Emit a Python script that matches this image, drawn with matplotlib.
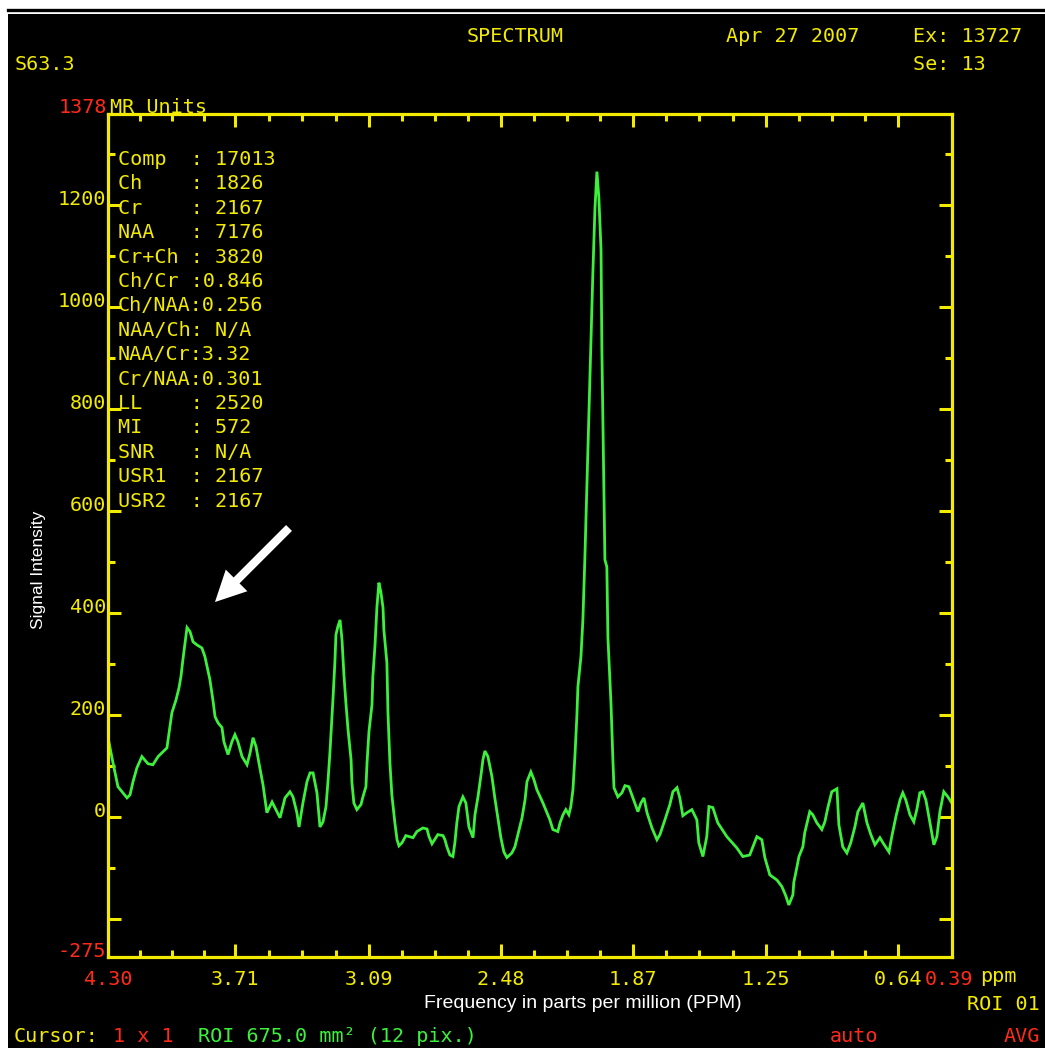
import numpy as np
import matplotlib
matplotlib.use("Agg")
import matplotlib.pyplot as plt
from matplotlib.patches import Rectangle, FancyArrowPatch
from matplotlib.lines import Line2D

W, H = 1045, 1048
YEL = "#f2ea00"; RED = "#ff2a1a"; GRN = "#3cf03c"
MONO = "DejaVu Sans Mono"; SANS = "Liberation Sans"

# spectrum (ppm, MR units)
ppm = [4.295, 4.277, 4.254, 4.212, 4.198, 4.184, 4.166, 4.143, 4.115, 4.092, 4.068, 4.027,
       4.017, 4.004, 3.985, 3.971, 3.962, 3.953, 3.943, 3.934, 3.920, 3.906, 3.888, 3.865,
       3.851, 3.841, 3.828, 3.814, 3.804, 3.790, 3.772, 3.763, 3.744, 3.726, 3.712, 3.698,
       3.679, 3.656, 3.642, 3.628, 3.614, 3.601, 3.582, 3.564, 3.540, 3.517, 3.503, 3.480,
       3.457, 3.443, 3.425, 3.415, 3.397, 3.378, 3.364, 3.350, 3.332, 3.318, 3.304, 3.290,
       3.281, 3.272, 3.258, 3.249, 3.244, 3.235, 3.225, 3.216, 3.207, 3.198, 3.188, 3.174,
       3.170, 3.161, 3.147, 3.128, 3.119, 3.105, 3.100, 3.091, 3.077, 3.073, 3.063, 3.054,
       3.045, 3.036, 3.026, 3.022, 3.008, 3.003, 2.994, 2.985, 2.971, 2.961, 2.952, 2.938,
       2.920, 2.887, 2.869, 2.841, 2.822, 2.813, 2.799, 2.781, 2.772, 2.748, 2.739, 2.730,
       2.716, 2.702, 2.693, 2.684, 2.674, 2.656, 2.642, 2.628, 2.609, 2.600, 2.586, 2.572,
       2.563, 2.554, 2.540, 2.521, 2.508, 2.494, 2.480, 2.466, 2.452, 2.429, 2.415, 2.401,
       2.382, 2.368, 2.359, 2.341, 2.327, 2.313, 2.285, 2.253, 2.239, 2.216, 2.206, 2.192,
       2.179, 2.165, 2.156, 2.146, 2.137, 2.128, 2.123, 2.109, 2.100, 2.091, 2.063, 2.054,
       2.044, 2.035, 2.026, 2.016, 2.012, 1.998, 1.989, 1.984, 1.970, 1.961, 1.956, 1.938,
       1.919, 1.905, 1.887, 1.868, 1.845, 1.831, 1.817, 1.803, 1.780, 1.757, 1.743, 1.720,
       1.697, 1.683, 1.664, 1.651, 1.637, 1.618, 1.595, 1.572, 1.563, 1.544, 1.526, 1.516,
       1.498, 1.475, 1.433, 1.387, 1.359, 1.327, 1.294, 1.271, 1.257, 1.234, 1.201, 1.178,
       1.160, 1.146, 1.127, 1.123, 1.109, 1.099, 1.081, 1.072, 1.049, 1.035, 1.016, 0.993,
       0.979, 0.965, 0.947, 0.923, 0.914, 0.896, 0.877, 0.859, 0.840, 0.826, 0.803, 0.784,
       0.766, 0.747, 0.724, 0.710, 0.682, 0.669, 0.650, 0.631, 0.618, 0.604, 0.585, 0.567,
       0.553, 0.539, 0.525, 0.511, 0.493, 0.474, 0.460, 0.446, 0.428, 0.409, 0.391]
signal = [145, 106, 59, 37, 43, 69, 96, 118, 104, 102, 118, 135,
          165, 204, 229, 253, 275, 308, 341, 371, 363, 343, 337, 331,
          314, 294, 269, 229, 196, 184, 175, 147, 122, 147, 161, 147,
          118, 102, 125, 155, 137, 106, 63, 8, 29, 10, -2, 37,
          49, 39, 8, -20, 27, 69, 86, 86, 47, -20, -10, 20,
          69, 125, 229, 302, 357, 373, 386, 347, 278, 224, 171, 112,
          67, 27, 14, 24, 39, 59, 106, 167, 220, 275, 337, 412,
          459, 441, 410, 367, 302, 204, 106, 43, -12, -45, -57, -51,
          -37, -41, -29, -22, -24, -39, -53, -41, -35, -37, -45, -59,
          -75, -78, -51, -12, 20, 39, 27, -20, -41, 4, 39, 82,
          112, 129, 118, 78, 37, -2, -41, -69, -80, -71, -59, -35,
          -2, 33, 69, 88, 73, 53, 27, -6, -25, -29, -12, 4,
          14, 4, 20, 53, 118, 196, 255, 314, 386, 504, 929, 1063,
          1194, 1265, 1214, 1112, 916, 504, 490, 351, 224, 112, 57, 39,
          47, 61, 59, 37, 10, 27, 37, 8, -22, -45, -35, -6,
          24, 49, 57, 37, 2, 8, 14, -6, -51, -78, -39, 20,
          18, -12, -39, -61, -78, -75, -39, -45, -80, -114, -124, -137,
          -155, -173, -153, -129, -100, -78, -59, -31, 10, 4, -12, -25,
          -10, 18, 49, 55, -16, -59, -71, -51, -20, 10, 27, -12,
          -35, -55, -41, -51, -69, -39, 0, 33, 47, 33, 4, -10,
          14, 47, 49, 33, -10, -55, -39, 10, 49, 39, 27]

xlabels = ["4.30", "3.71", "3.09", "2.48", "1.87", "1.25", "0.64"]
ylabels = [0, 200, 400, 600, 800, 1000, 1200]
ymin, ymax = -275, 1378
xleft, xright = 4.30, 0.39

stats = ["Comp  : 17013", "Ch    : 1826", "Cr    : 2167", "NAA   : 7176",
         "Cr+Ch : 3820", "Ch/Cr :0.846", "Ch/NAA:0.256", "NAA/Ch: N/A",
         "NAA/Cr:3.32", "Cr/NAA:0.301", "LL    : 2520", "MI    : 572",
         "SNR   : N/A", "USR1  : 2167", "USR2  : 2167"]


def fx(x): return x / W
def fy(y): return 1 - y / H


fig = plt.figure(figsize=(W / 100, H / 100), dpi=100, facecolor="white")
# black screen behind everything
fig.patches.append(Rectangle((fx(8), 0), 1, fy(14), transform=fig.transFigure,
                             facecolor="black", edgecolor="none", zorder=-10))
fig.lines.append(Line2D([fx(8), 1], [fy(9.5), fy(9.5)], transform=fig.transFigure,
                        color="black", lw=2.4, zorder=-10))

ax = fig.add_axes([fx(108), fy(957), fx(952 - 108), (957 - 114) / H], facecolor="black")
ax.set_zorder(1)
ax.plot(ppm, signal, color=GRN, lw=2.0, solid_joinstyle="miter")
ax.set_xlim(xleft, xright); ax.set_ylim(ymin, ymax)
for s in ax.spines.values():
    s.set_color(YEL); s.set_linewidth(2.3)

xmaj = [float(v) for v in xlabels]
xmin_t = []
for a, b in zip(xmaj[:-1], xmaj[1:]):
    xmin_t += list(np.linspace(a, b, 5)[1:-1])
ax.set_xticks(xmaj); ax.set_xticks(xmin_t, minor=True)
ax.set_yticks(np.arange(-200, 1201, 200)); ax.set_yticks(np.arange(-100, 1301, 200), minor=True)
ax.tick_params(which="both", direction="in", top=True, right=True, color=YEL, width=2.2,
               labelbottom=False, labelleft=False)
ax.tick_params(which="major", length=9.5)
ax.tick_params(which="minor", length=5)

# axis numbers
for v in ylabels:
    ax.annotate(str(v), xy=(0, v), xycoords=("axes fraction", "data"), xytext=(-1.5, 0),
                textcoords="offset points", ha="right", va="baseline",
                color=YEL, family=MONO, fontsize=14.5, annotation_clip=False)
ax.annotate(str(ymin), xy=(0, ymin), xycoords=("axes fraction", "data"), xytext=(-1.5, 0),
            textcoords="offset points", ha="right", va="baseline",
            color=RED, family=MONO, fontsize=14.5, annotation_clip=False)
for i, lab in enumerate(xlabels):
    ax.annotate(lab, xy=(float(lab), 0), xycoords=("data", "axes fraction"), xytext=(0, -20),
                textcoords="offset points", ha="center", va="baseline",
                color=RED if i == 0 else YEL, family=MONO, fontsize=14.5,
                annotation_clip=False)
ax.annotate("0.39", xy=(xright, 0), xycoords=("data", "axes fraction"), xytext=(-2, -20),
            textcoords="offset points", ha="center", va="baseline",
            color=RED, family=MONO, fontsize=14.5, annotation_clip=False)

# screen text
def t(x, y, s, c=YEL, ha="left", va="baseline", **kw):
    fig.text(fx(x), fy(y), s, color=c, ha=ha, va=va, family=MONO, fontsize=14.5, zorder=3, **kw)

t(467, 42, "SPECTRUM"); t(726, 42, "Apr 27 2007"); t(913, 42, "Ex: 13727")
t(15, 70, "S63.3"); t(913, 70, "Se: 13")
t(107, 113, str(ymax), c=RED, ha="right"); t(110, 113, "MR Units")
t(980, 982, "ppm")
t(1040, 1010, "ROI 01", ha="right")
t(14, 1042, "Cursor:"); t(113, 1042, "1 x 1", c=RED)
t(198, 1042, "ROI 675.0 mm² (12 pix.)", c=GRN)
t(830, 1042, "auto", c=RED); t(1040, 1042, "AVG", c=RED, ha="right")
for i, line in enumerate(stats):
    t(118, 165 + i * 24.4, line)

fig.text(fx(583), fy(1003), "Frequency in parts per million (PPM)", color="white",
         ha="center", va="center", family=SANS, fontsize=14)
fig.text(fx(38), fy(570), "Signal Intensity", color="white", rotation=90,
         ha="center", va="center", family=SANS, fontsize=12.5)

arrow = FancyArrowPatch((fx(291), fy(526)), (fx(213), fy(604)), transform=fig.transFigure,
                        arrowstyle="simple,head_length=1.1,head_width=1.1,tail_width=0.3",
                        mutation_scale=20, color="white", lw=0, zorder=3)
fig.patches.append(arrow)

fig.savefig("out.png", dpi=100, facecolor="white")
